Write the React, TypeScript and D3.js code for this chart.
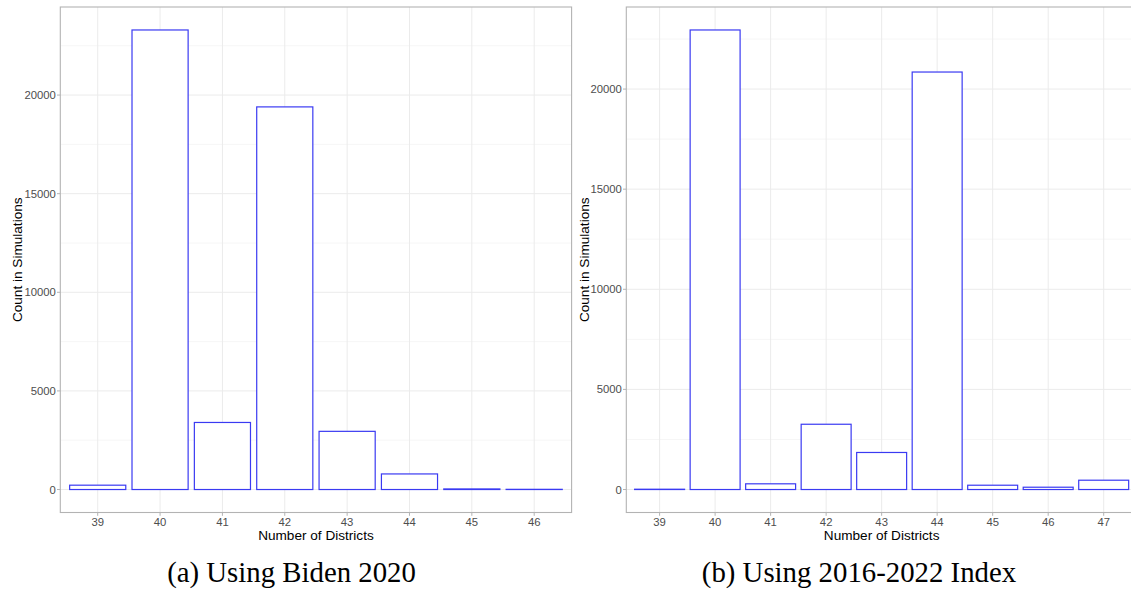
import React, { useRef, useEffect } from 'react';
import * as d3 from 'd3';

// ─── Data ───────────────────────────────────────────────────────────────────
const districtsA = ['39', '40', '41', '42', '43', '44', '45', '46'];
const countsA = [220, 23300, 3400, 19400, 2950, 790, 30, 10];

const districtsB = ['39', '40', '41', '42', '43', '44', '45', '46', '47'];
const countsB = [15, 22950, 285, 3260, 1850, 20850, 215, 115, 465];

const yTicksA = [0, 5000, 10000, 15000, 20000];
const yTicksB = [0, 5000, 10000, 15000, 20000];

const captionA = '(a) Using Biden 2020';
const captionB = '(b) Using 2016-2022 Index';
const xTitle = 'Number of Districts';
const yTitle = 'Count in Simulations';

const W = 1131;
const H = 592;

interface PanelSpec {
    cats: string[];
    values: number[];
    ticks: number[];
    x0: number;
    x1: number;
    yTitleX: number;
    caption: string;
    captionX: number;
}

const SANS = '"Liberation Sans", Arial, sans-serif';

const App: React.FC = () => {
    const ref = useRef<SVGSVGElement | null>(null);

    useEffect(() => {
        if (!ref.current) return;
        const svg = d3.select(ref.current);
        svg.selectAll('*').remove();

        const top = 7;
        const bottom = 512.5;

        const panels: PanelSpec[] = [
            { cats: districtsA, values: countsA, ticks: yTicksA, x0: 60.3, x1: 571.6, yTitleX: 22.3, caption: captionA, captionX: 291.5 },
            { cats: districtsB, values: countsB, ticks: yTicksB, x0: 626.3, x1: 1137, yTitleX: 588.5, caption: captionB, captionX: 859 },
        ];

        panels.forEach(p => {
            const g = svg.append('g');

            // ggplot-like expansion: 5% on continuous, 0.6 on discrete
            const maxV = d3.max(p.values) ?? 0;
            const span = maxV;
            const y = d3.scaleLinear()
                .domain([-0.05 * span, maxV + 0.05 * span])
                .range([bottom, top]);

            const x = d3.scaleBand<string>()
                .domain(p.cats)
                .range([p.x0, p.x1])
                .paddingInner(0.1)
                .paddingOuter(0.15);
            const cx = (c: string) => (x(c) ?? 0) + x.bandwidth() / 2;

            // panel background
            g.append('rect')
                .attr('x', p.x0).attr('y', top)
                .attr('width', p.x1 - p.x0).attr('height', bottom - top)
                .attr('fill', '#fff');

            // minor horizontal grid
            const step = p.ticks[1] - p.ticks[0];
            const minor = d3.range(p.ticks[0] - step / 2, y.domain()[1], step)
                .filter(v => y(v) > top && y(v) < bottom);
            g.selectAll('line.minor')
                .data(minor)
                .enter().append('line')
                .attr('x1', p.x0).attr('x2', p.x1)
                .attr('y1', d => y(d)).attr('y2', d => y(d))
                .attr('stroke', '#f4f4f4')
                .attr('stroke-width', 0.8);

            // major grid
            g.selectAll('line.hmajor')
                .data(p.ticks)
                .enter().append('line')
                .attr('x1', p.x0).attr('x2', p.x1)
                .attr('y1', d => y(d)).attr('y2', d => y(d))
                .attr('stroke', '#ebebeb')
                .attr('stroke-width', 1);
            g.selectAll('line.vmajor')
                .data(p.cats)
                .enter().append('line')
                .attr('x1', d => cx(d)).attr('x2', d => cx(d))
                .attr('y1', top).attr('y2', bottom)
                .attr('stroke', '#ebebeb')
                .attr('stroke-width', 1);

            // bars
            g.selectAll('rect.bar')
                .data(p.values)
                .enter().append('rect')
                .attr('x', (_, i) => x(p.cats[i]) ?? 0)
                .attr('width', x.bandwidth())
                .attr('y', d => y(d))
                .attr('height', d => Math.max(0, y(0) - y(d)))
                .attr('fill', '#fff')
                .attr('stroke', '#3a3af2')
                .attr('stroke-width', 1.2);

            // panel border
            g.append('rect')
                .attr('x', p.x0).attr('y', top)
                .attr('width', p.x1 - p.x0).attr('height', bottom - top)
                .attr('fill', 'none')
                .attr('stroke', '#b3b3b3')
                .attr('stroke-width', 1.1);

            // y axis ticks + labels
            g.selectAll('line.ytick')
                .data(p.ticks)
                .enter().append('line')
                .attr('x1', p.x0 - 3.3).attr('x2', p.x0)
                .attr('y1', d => y(d)).attr('y2', d => y(d))
                .attr('stroke', '#b3b3b3');
            g.selectAll('text.ylab')
                .data(p.ticks)
                .enter().append('text')
                .attr('x', p.x0 - 4.5)
                .attr('y', d => y(d) + 4)
                .attr('text-anchor', 'end')
                .style('font-family', SANS)
                .style('font-size', '11.3px')
                .style('fill', '#4d4d4d')
                .text(d => String(d));

            // x axis ticks + labels
            g.selectAll('line.xtick')
                .data(p.cats)
                .enter().append('line')
                .attr('x1', d => cx(d)).attr('x2', d => cx(d))
                .attr('y1', bottom).attr('y2', bottom + 3.3)
                .attr('stroke', '#b3b3b3');
            g.selectAll('text.xlab')
                .data(p.cats)
                .enter().append('text')
                .attr('x', d => cx(d))
                .attr('y', 525.5)
                .attr('text-anchor', 'middle')
                .style('font-family', SANS)
                .style('font-size', '11.3px')
                .style('fill', '#4d4d4d')
                .text(d => d);

            // axis titles
            const midX = (p.x0 + Math.min(p.x1, p.x0 + 511.3)) / 2;
            g.append('text')
                .attr('x', midX)
                .attr('y', 539.5)
                .attr('text-anchor', 'middle')
                .style('font-family', SANS)
                .style('font-size', '13.6px')
                .style('fill', '#000')
                .text(xTitle);
            g.append('text')
                .attr('transform', `translate(${p.yTitleX},${(top + bottom) / 2}) rotate(-90)`)
                .attr('text-anchor', 'middle')
                .style('font-family', SANS)
                .style('font-size', '13.6px')
                .style('fill', '#000')
                .text(yTitle);

            // caption
            g.append('text')
                .attr('x', p.captionX)
                .attr('y', 581.5)
                .attr('text-anchor', 'middle')
                .style('font-family', '"Liberation Serif", "Times New Roman", serif')
                .style('font-size', '28.8px')
                .style('fill', '#000')
                .text(p.caption);
        });
    }, []);

    return (
        <svg
            ref={ref}
            width={W}
            height={H}
            style={{ position: 'absolute', left: 0, top: 0, background: '#fff' }}
        />
    );
};

export default App;
